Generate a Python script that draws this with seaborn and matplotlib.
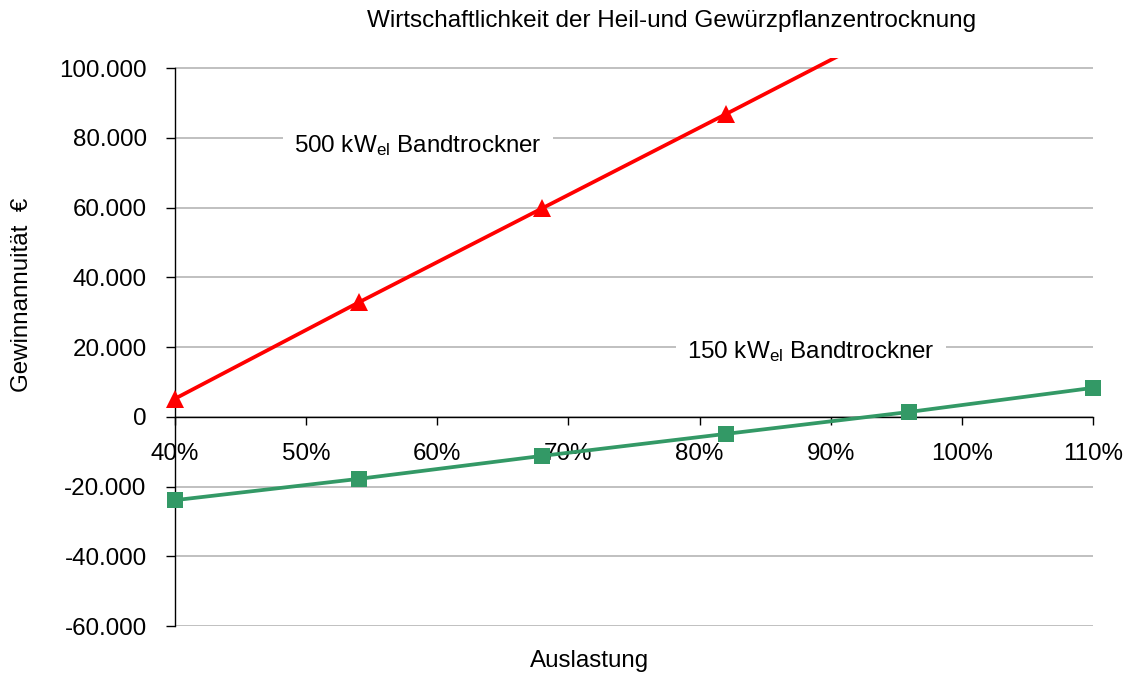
import numpy as np
import pandas as pd
import matplotlib
matplotlib.use("Agg")
import matplotlib.pyplot as plt
import matplotlib.ticker as mticker
import seaborn as sns

# -----------------------------
# Data
# -----------------------------
auslastung = [40, 54, 68, 82, 96, 110]
kw500 = [5200, 32800, 59800, 86800, 114000, 141000]
kw150 = [-23900, -17800, -11200, -4900, 1400, 8300]

y_ticks = [-60000, -40000, -20000, 0, 20000, 40000, 60000, 80000, 100000]
x_ticks = [40, 50, 60, 70, 80, 90, 100, 110]

title = "Wirtschaftlichkeit der Heil-und Gewürzpflanzentrocknung"

# -----------------------------
# Style
# -----------------------------
sns.set_style("white")
plt.rcParams["font.family"] = ["Liberation Sans", "DejaVu Sans"]
plt.rcParams["mathtext.fontset"] = "custom"
plt.rcParams["mathtext.rm"] = "Liberation Sans"
plt.rcParams["mathtext.it"] = "Liberation Sans"
plt.rcParams["text.color"] = "black"
plt.rcParams["xtick.color"] = "black"
plt.rcParams["ytick.color"] = "black"

FS = 17.4
Y_TOP = 102900

df = pd.DataFrame({"x": auslastung, "kw500": kw500, "kw150": kw150})

fig = plt.figure(figsize=(11.27, 6.73), dpi=100)
ax = fig.add_axes([0.1553, 0.0698, 0.8145, 0.8440])

# red line is clipped at the top of the plot area, markers are not
sns.lineplot(data=df, x="x", y="kw500", ax=ax, color="#FF0000", lw=2.7,
             zorder=4)
inside = df[df["kw500"] <= Y_TOP]
ax.plot(inside["x"], inside["kw500"], ls="none", marker="^",
        markersize=12.5, markeredgewidth=0, color="#FF0000", zorder=5,
        clip_on=False)

sns.lineplot(data=df, x="x", y="kw150", ax=ax, color="#339966", lw=2.7,
             marker="s", markersize=11.5, markeredgewidth=0, zorder=4,
             clip_on=False)

ax.set_xlim(40, 110)
ax.set_ylim(-60000, Y_TOP)
ax.set_xticks(x_ticks)
ax.set_yticks(y_ticks)

ax.xaxis.set_major_formatter(mticker.FuncFormatter(lambda v, p: f"{v:.0f}%"))
ax.yaxis.set_major_formatter(mticker.FuncFormatter(
    lambda v, p: f"{v:,.0f}".replace(",", ".")))

ax.grid(axis="y", color="#C0C0C0", lw=1.4)
ax.set_axisbelow(True)

for s in ["top", "right"]:
    ax.spines[s].set_visible(False)
ax.spines["bottom"].set_position(("data", 0))
ax.spines["bottom"].set_color("black")
ax.spines["bottom"].set_linewidth(1)
ax.spines["left"].set_color("black")
ax.spines["left"].set_linewidth(1)
ax.spines["left"].set_bounds(-60000, 100000)

ax.tick_params(axis="x", direction="out", length=6, width=1, pad=12.5,
               labelsize=FS, bottom=True, color="black")
ax.tick_params(axis="y", direction="out", length=6.5, width=1, pad=14,
               labelsize=FS, left=True, color="black")

ax.set_xlabel("")
ax.set_ylabel("")
fig.text(590 / 1127, 1 - 661 / 673, "Auslastung", ha="center", va="center",
         fontsize=FS)
fig.text(22 / 1127, 1 - 295 / 673, "Gewinnannuität  €", rotation=90,
         ha="center", va="center", fontsize=FS)
fig.text(672 / 1127, 1 - 21 / 673, title, ha="center", va="center",
         fontsize=17.5)

# -----------------------------
# Labels
# -----------------------------
box = dict(facecolor="white", edgecolor="none", pad=8)
ax.text(58.5, 77800, "500 kW$_{\\mathrm{el}}$ Bandtrockner", ha="center",
        va="center", fontsize=FS, bbox=box, zorder=3)
ax.text(88.5, 18800, "150 kW$_{\\mathrm{el}}$ Bandtrockner", ha="center",
        va="center", fontsize=FS, bbox=box, zorder=3)

plt.savefig("out.png", dpi=100)
